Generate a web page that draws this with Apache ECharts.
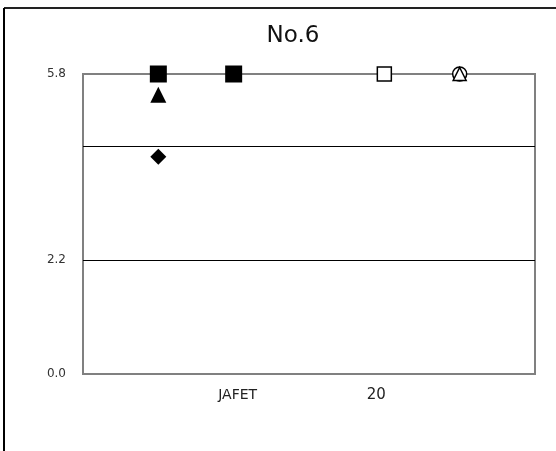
<!DOCTYPE html>
<html>
<head>
<meta charset="utf-8">
<script src="https://cdn.jsdelivr.net/npm/echarts@6/dist/echarts.min.js"></script>
<style>
 html,body{margin:0;padding:0;background:#fff;}
 #chart{width:556px;height:451px;}
</style>
</head>
<body>
<div id="chart"></div>
<script>
var titleText = "No.6";
var xLabels = ["", "", "JAFET", "", "20", "", ""];
var yTicks = [0, 2.2, 4.4, 5.8];
var yLabels = ["0.0", "2.2", "", "5.8"];

var diamondData = [[1, 4.2]];
var squareData = [[1, 5.8], [2, 5.8]];
var triangleData = [[1, 5.4]];
var openSquareData = [[4, 5.8]];
var openTriangleData = [[5, 5.8]];
var openCircleData = [[5, 5.8]];

var font = "DejaVu Sans";

function yLabel(v){
 for(var i=0;i<yTicks.length;i++){
  if(Math.abs(yTicks[i]-v)<0.01) return yLabels[i];
 }
 return "";
}

function xLabel(v){
 var s = xLabels[Math.round(v)] || "";
 if(s=="JAFET") return "{j|"+s+"}";
 if(s=="20") return "{t|"+s+"}";
 return "";
}

function mk(data, symbol, size, filled){
 return {
  type: "scatter",
  data: data,
  symbol: symbol,
  symbolSize: size,
  itemStyle: filled ? {color:"#000", opacity:1} : {color:"#fff", borderColor:"#000", borderWidth:1.5, opacity:1},
  z: 5
 };
}

var chart = echarts.init(document.getElementById("chart"));

var option = {
 animation: false,
 title: {
  text: titleText,
  left: 288,
  top: 20,
  textAlign: "center",
  textStyle: {fontFamily: font, fontSize: 23, fontWeight: "normal", color: "#111"}
 },
 graphic: [
  {type:"line", shape:{x1:4, y1:8, x2:556, y2:8}, style:{stroke:"#222", lineWidth:2}},
  {type:"line", shape:{x1:4, y1:8, x2:4, y2:451}, style:{stroke:"#000", lineWidth:2}}
 ],
 grid: {
  left: 83, top: 74, right: 21, bottom: 77,
  show: true, borderColor: "#808080", borderWidth: 2, backgroundColor: "#fff"
 },
 xAxis: {
  type: "value", min: 0, max: 6, interval: 1,
  axisLine: {show: false}, axisTick: {show: false}, splitLine: {show: false},
  axisLabel: {
   margin: 14, formatter: xLabel,
   rich: {
    j: {fontFamily: font, fontSize: 14, color: "#222", padding: [0, 0, 0, 8]},
    t: {fontFamily: font, fontSize: 15, color: "#222", padding: [0, 16, 0, 0]}
   }
  }
 },
 yAxis: {
  type: "value", min: 0, max: 5.8, interval: 2.2,
  axisLine: {show: false}, axisTick: {show: false},
  splitLine: {show: true, showMinLine: false, showMaxLine: false, lineStyle: {color: "#000", width: 1}},
  axisLabel: {margin: 17, formatter: yLabel, fontFamily: font, fontSize: 12, color: "#333"}
 },
 series: [
  mk(diamondData, "diamond", 16, true),
  mk(squareData, "rect", 17, true),
  mk(triangleData, "triangle", 16, true),
  mk(openSquareData, "rect", 14, false),
  mk(openCircleData, "circle", 14, false),
  mk(openTriangleData, "triangle", 13, false)
 ]
};
chart.setOption(option);
</script>
</body>
</html>
